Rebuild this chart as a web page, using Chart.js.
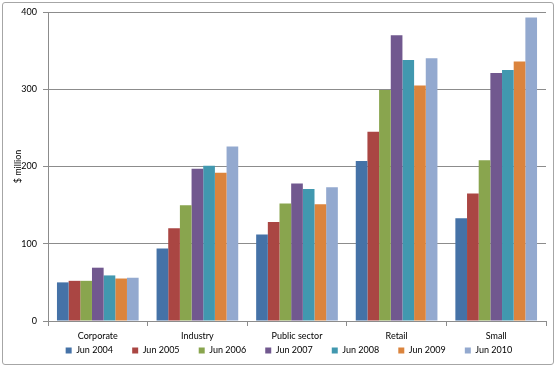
<!DOCTYPE html>
<html lang="en">
  <head>
    <meta charset="UTF-8" />
    <title>Lending by sector</title>
    <style>
      html, body {
        margin: 0;
        padding: 0;
        background: #ffffff;
      }
      .frame {
        position: absolute;
        left: 2px;
        top: 2px;
        width: 550px;
        height: 361px;
        border: 1px solid #a6a6a6;
        border-radius: 3px;
      }
      .wrap {
        position: absolute;
        left: 0;
        top: 0;
        width: 557px;
        height: 366px;
      }
    </style>
  </head>
  <body>
    <div class="frame"></div>
    <div class="wrap">
      <canvas id="sectorChart" width="557" height="366"></canvas>
    </div>

    <script src="https://cdn.jsdelivr.net/npm/chart.js"></script>
    <script>
      // categories and series ($ million)
      const sectors = ["Corporate", "Industry", "Public sector", "Retail", "Small"];
      const periods = ["Jun 2004", "Jun 2005", "Jun 2006", "Jun 2007", "Jun 2008", "Jun 2009", "Jun 2010"];
      const jun2004 = [50, 94, 112, 207, 133];
      const jun2005 = [52, 120, 128, 245, 165];
      const jun2006 = [52, 150, 152, 299, 208];
      const jun2007 = [69, 197, 178, 370, 321];
      const jun2008 = [59, 201, 171, 338, 325];
      const jun2009 = [55, 192, 151, 305, 336];
      const jun2010 = [56, 226, 173, 340, 393];
      const yTicks = [0, 100, 200, 300, 400];

      const seriesValues = [jun2004, jun2005, jun2006, jun2007, jun2008, jun2009, jun2010];
      const colours = ["#4572A7", "#AA4643", "#89A54E", "#71588F", "#4198AF", "#DB843D", "#93A9CF"];

      const font = { family: "Lato, 'Open Sans', sans-serif", size: 9 };
      const axisGrey = "#8c8c8c";

      // legend items sit ~68px apart; pad the label text with spaces to get there
      const measure = document.createElement("canvas").getContext("2d");
      measure.font = "9px Lato, 'Open Sans', sans-serif";
      const legendText = (t) => {
        const want = 54.6;
        let s = t;
        while (measure.measureText(s + " ").width <= want) s += " ";
        return s;
      };

      const ctx = document.getElementById("sectorChart").getContext("2d");
      new Chart(ctx, {
        type: "bar",
        data: {
          labels: sectors,
          datasets: periods.map((p, i) => ({
            label: p,
            data: seriesValues[i],
            backgroundColor: colours[i],
            borderWidth: 0,
            barPercentage: 1,
            categoryPercentage: 0.82,
          })),
        },
        options: {
          responsive: false,
          animation: false,
          devicePixelRatio: 1,
          layout: {
            padding: { left: 0, top: 12, right: 11, bottom: 1 },
          },
          plugins: {
            tooltip: { enabled: false },
            legend: {
              position: "bottom",
              fullSize: false,
              labels: {
                boxWidth: 6,
                boxHeight: 6,
                padding: 3,
                color: "#000000",
                font: font,
                generateLabels: (chart) =>
                  Chart.defaults.plugins.legend.labels
                    .generateLabels(chart)
                    .map((item) => ({ ...item, text: legendText(item.text) })),
              },
            },
          },
          scales: {
            x: {
              afterFit: (scale) => {
                scale.height = 22;
              },
              grid: {
                offset: true,
                drawOnChartArea: false,
                drawTicks: true,
                tickLength: 5,
                color: axisGrey,
              },
              border: { color: axisGrey },
              ticks: {
                color: "#000000",
                font: font,
                padding: 5,
              },
            },
            y: {
              min: 0,
              max: 400,
              afterFit: (scale) => {
                scale.width = 48;
              },
              afterBuildTicks: (scale) => {
                scale.ticks = yTicks.map((v) => ({ value: v }));
              },
              grid: {
                color: axisGrey,
                tickLength: 5,
              },
              border: { color: axisGrey },
              ticks: {
                color: "#000000",
                font: font,
                padding: 6,
              },
              title: {
                display: true,
                text: "$ million",
                color: "#000000",
                font: font,
                padding: { top: 13, bottom: 0 },
              },
            },
          },
        },
      });
    </script>
  </body>
</html>
